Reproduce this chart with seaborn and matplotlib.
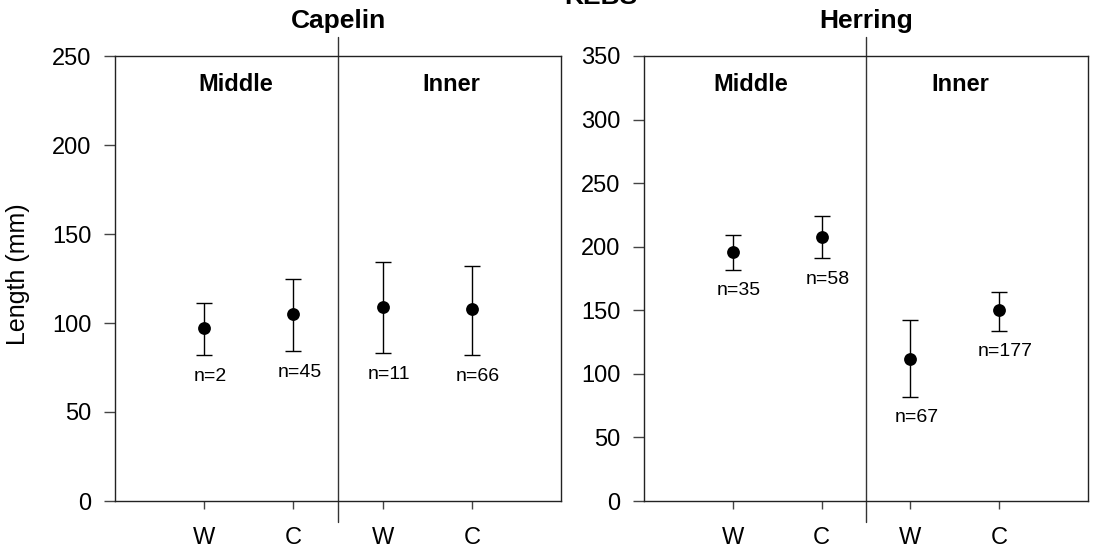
import matplotlib
matplotlib.use("Agg")
import matplotlib.pyplot as plt
import seaborn as sns
import pandas as pd

# --- Data ---
groups = ["Middle", "Middle", "Inner", "Inner"]
seasons = ["W", "C", "W", "C"]

capelin_mean = [97, 105, 109, 108]
capelin_lo = [82, 84, 83, 82]
capelin_hi = [111, 125, 134, 132]
capelin_n = [2, 45, 11, 66]

herring_mean = [196, 208, 112, 150]
herring_lo = [182, 191, 82, 134]
herring_hi = [209, 224, 142, 164]
herring_n = [35, 58, 67, 177]

# --- Style ---
sns.set_style("ticks")
plt.rcParams['font.family'] = ['Liberation Sans', 'DejaVu Sans']
plt.rcParams['text.color'] = 'black'
plt.rcParams['axes.labelcolor'] = 'black'
plt.rcParams['xtick.color'] = 'black'
plt.rcParams['ytick.color'] = 'black'
plt.rcParams['axes.linewidth'] = 1.0
plt.rcParams['xtick.major.width'] = 1.0
plt.rcParams['ytick.major.width'] = 1.0


def panel(ax, title, mean, lo, hi, n, ymax, label_x, show_ylabel):
    df = pd.DataFrame({
        "pos": range(1, len(mean) + 1),
        "mean": mean, "lo": lo, "hi": hi, "n": n,
        "group": groups, "season": seasons,
    })
    ax.errorbar(df["pos"], df["mean"],
                yerr=[df["mean"] - df["lo"], df["hi"] - df["mean"]],
                fmt="none", ecolor="black", elinewidth=1.0,
                capsize=5.5, capthick=1.0, zorder=2)
    sns.scatterplot(data=df, x="pos", y="mean", color="black", s=85,
                    edgecolor="black", linewidth=0, ax=ax, zorder=3, legend=False)

    for _, r in df.iterrows():
        ax.annotate(f"n={r['n']}", (r["pos"], r["lo"]), xytext=(6, -21),
                    textcoords="offset pixels", ha="center", va="center",
                    fontsize=14)

    ax.set_xlim(0, 5)
    ax.set_ylim(0, ymax)
    ax.set_xticks(df["pos"])
    ax.set_xticklabels(seasons, fontsize=17)
    ax.set_yticks(range(0, ymax + 1, 50))
    ax.tick_params(axis="y", labelsize=17, length=8, pad=9, color="#444444")
    ax.tick_params(axis="x", length=6, pad=13, color="#444444")
    for s in ax.spines.values():
        s.set_visible(True)
        s.set_color("#222222")

    # divider between the two regions
    ax.axvline(2.5, ymin=-0.047, ymax=1.043, color="#333333", lw=1.0, clip_on=False)

    for g, gx in zip(["Middle", "Inner"], label_x):
        ax.text(gx, 0.935, g, transform=ax.get_xaxis_transform(), ha="center",
                va="center", fontsize=17, fontweight="bold")

    ax.text(0.5, 1.078, title, transform=ax.transAxes, ha="center", va="center",
            fontsize=19, fontweight="bold")

    ax.set_xlabel("")
    if show_ylabel:
        ax.set_ylabel("Length (mm)", fontsize=18)
        ax.yaxis.set_label_coords(-0.19, 0.51)
    else:
        ax.set_ylabel("")


fig = plt.figure(figsize=(10.94, 5.6), dpi=100)
ax1 = fig.add_axes([115 / 1094, 59 / 560, 446 / 1094, 445 / 560])
ax2 = fig.add_axes([644 / 1094, 59 / 560, 444 / 1094, 445 / 560])

panel(ax1, "Capelin", capelin_mean, capelin_lo, capelin_hi, capelin_n, 250,
      [1.35, 3.77], True)
panel(ax2, "Herring", herring_mean, herring_lo, herring_hi, herring_n, 350,
      [1.2, 3.56], False)

# overall title, mostly cut off at the top edge (as in the reference)
fig.text(601 / 1094, (560 - 4) / 560, "KEBS", ha="center", va="baseline",
         fontsize=19, fontweight="bold")

fig.savefig("out.png", dpi=100)
